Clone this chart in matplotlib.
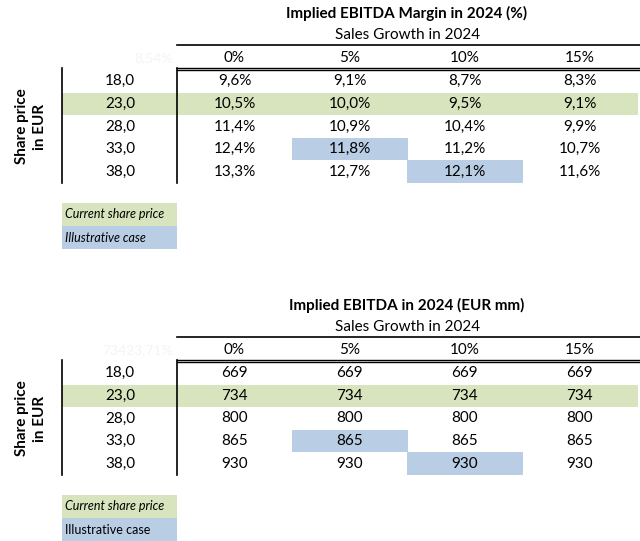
import numpy as np
import matplotlib.pyplot as plt
from matplotlib.patches import Rectangle

plt.rcParams['font.family'] = ['Lato', 'DejaVu Sans']

growth = ['0%', '5%', '10%', '15%']
share_prices = [18.0, 23.0, 28.0, 33.0, 38.0]
margin = [
    [9.6, 9.1, 8.7, 8.3],
    [10.5, 10.0, 9.5, 9.1],
    [11.4, 10.9, 10.4, 9.9],
    [12.4, 11.8, 11.2, 10.7],
    [13.3, 12.7, 12.1, 11.6],
]
ebitda = [
    [669, 669, 669, 669],
    [734, 734, 734, 734],
    [800, 800, 800, 800],
    [865, 865, 865, 865],
    [930, 930, 930, 930],
]
current_row = 1
illustrative = [(3, 1), (4, 2)]

GREEN = '#d7e4bd'
BLUE = '#b9cde5'
FS = 11

fig = plt.figure(figsize=(6.4, 5.41), dpi=100)
ax = fig.add_axes([0, 0, 1, 1])
ax.set_xlim(0, 640)
ax.set_ylim(541, 0)
ax.axis('off')

x_left = 62
x_lab = 177
col_w = 115
row_h = 22.6


def fmt_pct(v):
    return f"{v:.1f}%".replace('.', ',')


def draw_table(y0, title, values, fmt, corner, legend_italic2):
    ax.text(407, y0 + 13, title, ha='center', va='center', fontsize=FS, fontweight='bold')
    ax.text(408, y0 + 35, 'Sales Growth in 2024', ha='center', va='center', fontsize=FS)
    ax.plot([x_lab, 640], [y0 + 45, y0 + 45], color='black', lw=1.2)
    ax.text(173, y0 + 58, corner, ha='right', va='center', fontsize=10, color='#f4f4f4')
    for j, g in enumerate(growth):
        ax.text(x_lab + col_w * (j + 0.5), y0 + 58, g, ha='center', va='center', fontsize=FS)
    ax.plot([x_lab, 640], [y0 + 67.5, y0 + 67.5], color='black', lw=1)
    ax.plot([x_lab, 640], [y0 + 70, y0 + 70], color='black', lw=1)

    top = y0 + 70
    # highlight current share price row
    ax.add_patch(Rectangle((x_left, top + row_h * current_row), 638 - x_left, row_h,
                           facecolor=GREEN, edgecolor='none'))
    for (r, c) in illustrative:
        ax.add_patch(Rectangle((x_lab + col_w * c, top + row_h * r), col_w + 1, row_h,
                               facecolor=BLUE, edgecolor='none'))

    for i, sp in enumerate(share_prices):
        yc = top + row_h * (i + 0.5)
        ax.text(120, yc, f"{sp:.1f}".replace('.', ','), ha='center', va='center', fontsize=FS)
        for j in range(len(growth)):
            ax.text(x_lab + col_w * (j + 0.5), yc, fmt(values[i][j]),
                    ha='center', va='center', fontsize=FS)

    bottom = top + row_h * len(share_prices)
    ax.plot([x_left, x_left], [top - 2, bottom], color='black', lw=1.2)
    ax.plot([x_lab, x_lab], [top - 2, bottom], color='black', lw=1.2)

    ax.text(31, (top + bottom) / 2, 'Share price\nin EUR', ha='center', va='center',
            rotation=90, fontsize=FS, fontweight='bold', linespacing=1.35)

    # legend
    ly = y0 + 203
    ax.add_patch(Rectangle((x_left, ly), x_lab - x_left, 23, facecolor=GREEN, edgecolor='none'))
    ax.add_patch(Rectangle((x_left, ly + 23), x_lab - x_left, 22.5, facecolor=BLUE, edgecolor='none'))
    ax.text(65, ly + 11.5, 'Current share price', ha='left', va='center', fontsize=9, style='italic')
    ax.text(65, ly + 34.5, 'Illustrative case', ha='left', va='center', fontsize=9,
            style='italic' if legend_italic2 else 'normal')


draw_table(0, 'Implied EBITDA Margin in 2024 (%)', margin, fmt_pct, '8,54%', True)
draw_table(292, 'Implied EBITDA in 2024 (EUR mm)', ebitda, lambda v: f"{v:d}", '73423,71%', False)

fig.savefig('out.png', dpi=100)
